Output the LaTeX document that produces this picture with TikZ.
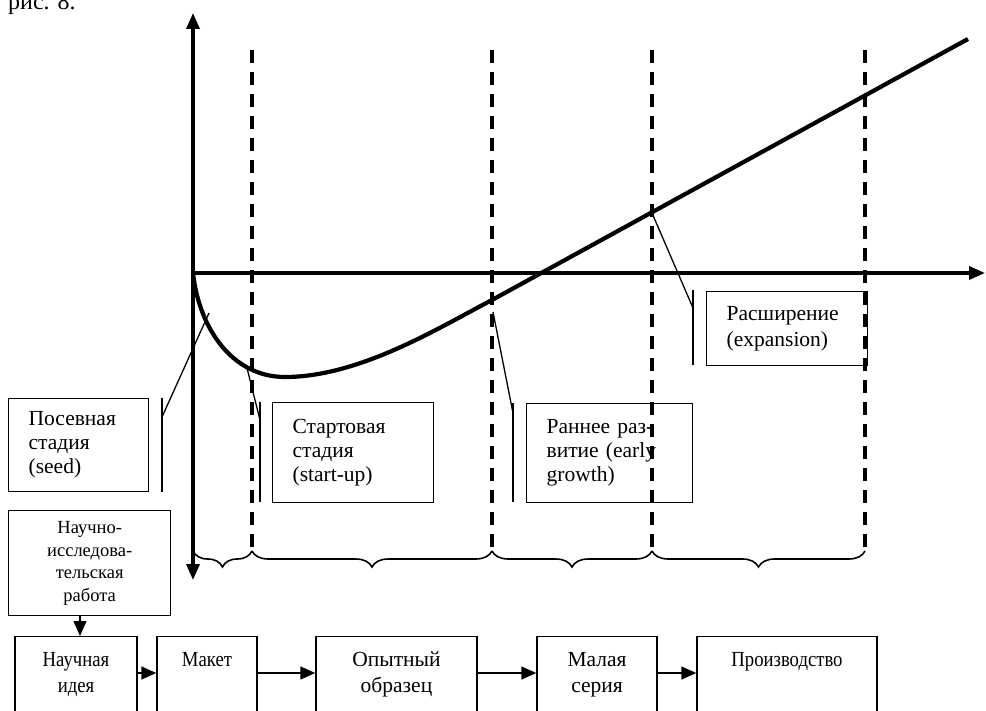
\documentclass[tikz,border=0pt]{standalone}
\usepackage{fontspec}
\setmainfont{Liberation Serif}
\newfontfamily\narrowserif[FakeStretch=0.87]{Liberation Serif}
\usetikzlibrary{arrows.meta,positioning,calc,decorations.pathreplacing}

\tikzset{
	axis/.style={line width=3.4pt},
	bigtip/.style={-{Triangle[length=16pt,width=13pt]}},
	curve/.style={line width=4.2pt},
	stageline/.style={line width=3.3pt,dash pattern=on 13pt off 9pt},
	leader/.style={line width=1.3pt},
	stagebrace/.style={line width=1.6pt,decorate,decoration={brace,mirror,amplitude=16pt}},
	callout/.style={draw,line width=1.3pt,anchor=north west,align=left,inner xsep=20pt,inner ysep=0pt,font=\fontsize{21.5}{24}\selectfont},
	flowbox/.style={draw,line width=1.4pt,anchor=north,align=center,inner sep=0pt,text height=30pt,text depth=54pt,font=\fontsize{21.5}{26}\selectfont},
	flowarr/.style={line width=1.4pt,-{Triangle[length=15pt,width=13pt]}}
}

\begin{document}
\begin{tikzpicture}[x=1pt,y=-1pt]
\useasboundingbox (0,0) rectangle (986,711);
\clip (0,0) rectangle (986,711);
\node [anchor=base west,inner sep=0pt,font=\fontsize{24}{28}\selectfont] (ris) at (8,10) {рис. 8.};

% axes
\coordinate (O) at (193,273);
\coordinate (ytop) at (193,13);
\coordinate (ybot) at (193,580);
\coordinate (xend) at (985,273);
\draw [axis,{Triangle[length=16pt,width=13pt]}-{Triangle[length=16pt,width=13pt]}] (ybot) -- (ytop);
\draw [axis,bigtip] (O) -- (xend);

% stage borders
\foreach \x/\n in {252/a,492/b,652/c,865/d}{
	\coordinate (top\n) at (\x,50);
	\coordinate (bot\n) at (\x,551);
	\draw [stageline] (top\n) -- (bot\n);
}
\coordinate (bot0) at (193,551);
\draw [stagebrace] (bot0) -- (bota);
\draw [stagebrace] (bota) -- (botb);
\draw [stagebrace] (botb) -- (botc);
\draw [stagebrace] (botc) -- (botd);

% cash flow
\coordinate (low) at (285,377);
\coordinate (cb) at (492,300);
\coordinate (cc) at (652,213);
\coordinate (cend) at (968,39);
\draw [curve] (O) .. controls (199,328) and (232,377) .. (low)
	.. controls (360,377) and (440,327) .. (cb) -- (cend);

% stage boxes
\node [callout,text width=100pt,minimum height=93pt] (seed) at (8,398) {Посевная\\стадия\\(seed)};
\node [callout,text width=121pt,minimum height=100pt] (start) at (272,402) {Стартовая\\стадия\\(start-up)};
\node [callout,text width=126pt,minimum height=99pt] (early) at (526,403) {Раннее раз-\\витие (early\\growth)};
\node [callout,text width=121pt,minimum height=74pt,font=\fontsize{21.5}{26}\selectfont] (exp) at (706,291) {Расширение\\(expansion)};

\draw [leader] (162,398) -- (162,492);
\draw [leader] (209,313) -- (162,417);
\draw [leader] (260,402) -- (260,502);
\draw [leader] (247,368) -- (260,420);
\draw [leader] (513,403) -- (513,502);
\draw [leader] (493,312) -- (513,413);
\draw [leader] (693,290) -- (693,365);
\draw [leader] (cc) -- (693,308);

% research chain
\node [draw,line width=1.4pt,anchor=north west,align=center,text width=152pt,inner xsep=5pt,inner ysep=0pt,minimum height=105pt,font=\fontsize{18.5}{22.5}\selectfont] (nir) at (8,510) {Научно-\\исследова-\\тельская\\работа};
\node [flowbox,text width=122pt,font=\fontsize{21.5}{26}\narrowserif] (idea) at (76,636) {Научная\\идея};
\node [flowbox,text width=100pt,font=\fontsize{21.5}{26}\narrowserif] (maket) at (207,636) {Макет};
\node [flowbox,text width=161pt] (proto) at (396.5,636) {Опытный\\образец};
\node [flowbox,text width=120pt] (small) at (597,636) {Малая\\серия};
\node [flowbox,text width=180pt,font=\fontsize{21.5}{26}\narrowserif] (prod) at (787,636) {Производство};

\coordinate (flowy) at (0,673);
\draw [flowarr] (nir.south -| 80,0) -- (idea.north -| 80,0);
\draw [flowarr] (idea.east |- flowy) -- (maket.west |- flowy);
\draw [flowarr] (maket.east |- flowy) -- (proto.west |- flowy);
\draw [flowarr] (proto.east |- flowy) -- (small.west |- flowy);
\draw [flowarr] (small.east |- flowy) -- (prod.west |- flowy);
\end{tikzpicture}
\end{document}
